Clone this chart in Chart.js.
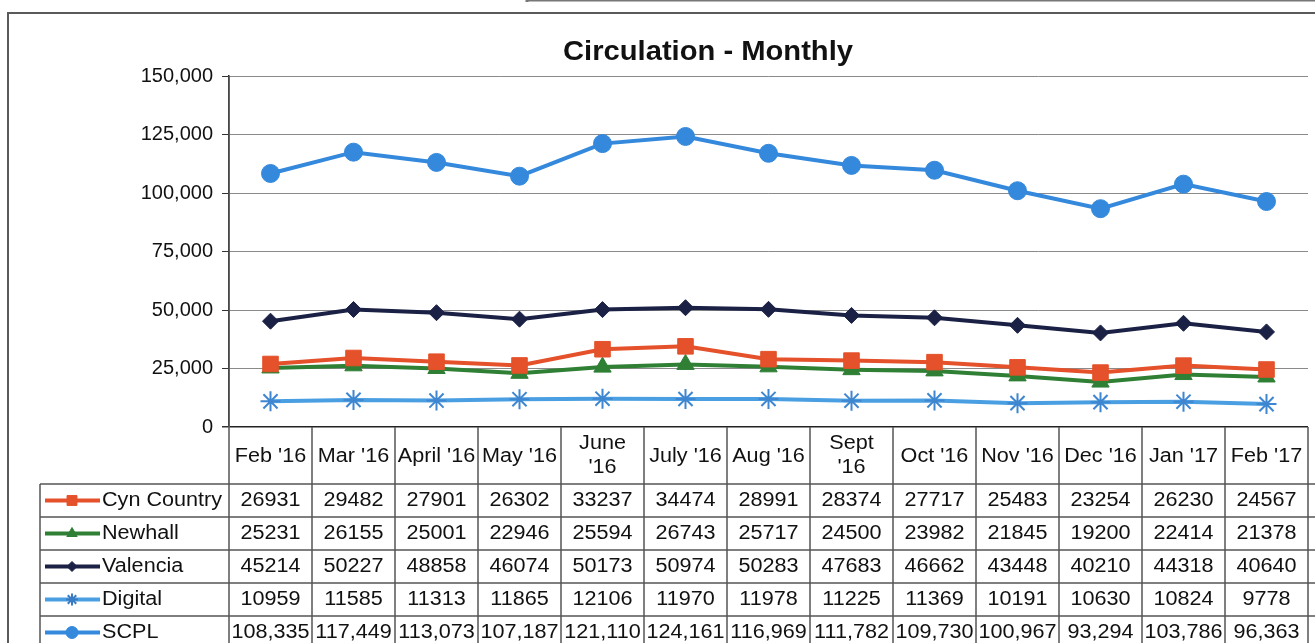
<!DOCTYPE html>
<html>
<head>
<meta charset="utf-8">
<title>Circulation - Monthly</title>
<script src="https://cdn.jsdelivr.net/npm/chart.js@4.4.0/dist/chart.umd.min.js"></script>
<style>
  html, body { margin: 0; padding: 0; background: #fff; overflow: hidden; }
  #wrap { width: 1320px; height: 643px; }
</style>
</head>
<body>
<div id="wrap"><canvas id="chart" width="1320" height="643"></canvas></div>
<script>
// month labels, also used as the header row of the data table
const months = ["Feb '16", "Mar '16", "April '16", "May '16", ["June", "'16"], "July '16",
  "Aug '16", ["Sept", "'16"], "Oct '16", "Nov '16", "Dec '16", "Jan '17", "Feb '17"];

const cynCountry = [26931, 29482, 27901, 26302, 33237, 34474, 28991, 28374, 27717, 25483, 23254, 26230, 24567];
const newhall = [25231, 26155, 25001, 22946, 25594, 26743, 25717, 24500, 23982, 21845, 19200, 22414, 21378];
const valencia = [45214, 50227, 48858, 46074, 50173, 50974, 50283, 47683, 46662, 43448, 40210, 44318, 40640];
const digital = [10959, 11585, 11313, 11865, 12106, 11970, 11978, 11225, 11369, 10191, 10630, 10824, 9778];
const scpl = [108335, 117449, 113073, 107187, 121110, 124161, 116969, 111782, 109730, 100967, 93294, 103786, 96363];

const yTicks = [0, 25000, 50000, 75000, 100000, 125000, 150000];

const FONT = '"Liberation Sans", Arial, sans-serif';

// draws text a little wider than normal, the scan is stretched sideways
function drawText(ctx, text, x, y, font, align, sx) {
  ctx.save();
  ctx.font = font;
  ctx.textAlign = align;
  ctx.textBaseline = 'middle';
  ctx.translate(x, y);
  ctx.scale(sx, 1);
  ctx.fillText(text, 0, 0);
  ctx.restore();
}

const frameAndTable = {
  id: 'frameAndTable',
  beforeDraw(chart) {
    const ctx = chart.ctx;
    ctx.save();
    ctx.fillStyle = '#fff';
    ctx.fillRect(0, 0, chart.width, chart.height);
    // outer chart frame
    ctx.strokeStyle = '#5a5a5a';
    ctx.lineWidth = 2;
    ctx.strokeRect(8, 13, chart.width + 20, chart.height + 20);
    // edge of the box above the chart
    ctx.strokeStyle = '#777';
    ctx.lineWidth = 3;
    ctx.beginPath();
    ctx.moveTo(527, 0);
    ctx.lineTo(chart.width, 0);
    ctx.moveTo(527, 0);
    ctx.lineTo(527, 2);
    ctx.stroke();
    ctx.restore();
  },
  afterDraw(chart) {
    const ctx = chart.ctx;
    const x = chart.scales.x;
    const area = chart.chartArea;
    const colW = (area.right - area.left) / months.length;
    const headTop = area.bottom;
    const headBottom = 484;
    const rowH = 33;
    const sets = chart.data.datasets;
    const tableBottom = headBottom + rowH * sets.length;

    ctx.save();
    // title
    ctx.fillStyle = '#111';
    drawText(ctx, 'Circulation - Monthly', 708, 53, 'bold 27px ' + FONT, 'center', 1.08);

    // grid lines of the table
    ctx.strokeStyle = '#555';
    ctx.lineWidth = 1.5;
    ctx.beginPath();
    ctx.moveTo(area.left, area.top);
    ctx.lineTo(area.left, tableBottom);
    for (let i = 1; i <= months.length; i++) {
      const bx = area.left + colW * i;
      ctx.moveTo(bx, headTop);
      ctx.lineTo(bx, tableBottom);
    }
    ctx.moveTo(40, headBottom);
    ctx.lineTo(40, tableBottom);
    for (let r = 0; r <= sets.length; r++) {
      const ry = headBottom + rowH * r;
      ctx.moveTo(40, ry);
      ctx.lineTo(chart.width, ry);
    }
    ctx.stroke();

    // header row
    ctx.fillStyle = '#111';
    months.forEach((m, i) => {
      const cx = x.getPixelForValue(i);
      if (Array.isArray(m)) {
        drawText(ctx, m[0], cx, 443, '20px ' + FONT, 'center', 1.08);
        drawText(ctx, m[1], cx, 467, '20px ' + FONT, 'center', 1.08);
      } else {
        drawText(ctx, m, cx, 456, '20px ' + FONT, 'center', 1.08);
      }
    });

    // series rows with legend keys
    sets.forEach((ds, r) => {
      const cy = headBottom + rowH * r + rowH / 2;
      ctx.strokeStyle = ds.borderColor;
      ctx.lineWidth = 4;
      ctx.beginPath();
      ctx.moveTo(45, cy);
      ctx.lineTo(100, cy);
      ctx.stroke();
      ctx.fillStyle = ds.pointBackgroundColor;
      ctx.strokeStyle = ds.legendStroke || ds.pointBorderColor;
      ctx.lineWidth = ds.pointBorderWidth;
      Chart.helpers.drawPoint(ctx, {
        pointStyle: ds.pointStyle,
        radius: ds.legendRadius,
        borderWidth: ds.pointBorderWidth,
        rotation: 0
      }, 72, cy);
      ctx.fillStyle = '#111';
      drawText(ctx, ds.label, 102, cy, '20px ' + FONT, 'left', 1.08);
      ds.data.forEach((v, i) => {
        const txt = ds.commas ? v.toLocaleString('en-US') : String(v);
        drawText(ctx, txt, x.getPixelForValue(i), cy, '20px ' + FONT, 'center', 1.08);
      });
    });
    ctx.restore();
  }
};

function series(label, data, color, style, radius, legendRadius, extra) {
  return Object.assign({
    label: label,
    data: data,
    borderColor: color,
    backgroundColor: color,
    pointBackgroundColor: color,
    pointBorderColor: color,
    pointBorderWidth: 1,
    pointStyle: style,
    pointRadius: radius,
    pointHoverRadius: radius,
    legendRadius: legendRadius,
    borderWidth: 4,
    tension: 0,
    fill: false
  }, extra || {});
}

const chart = new Chart(document.getElementById('chart'), {
  type: 'line',
  data: {
    labels: months,
    datasets: [
      series('Cyn Country', cynCountry, '#e4512a', 'rect', 11, 7),
      series('Newhall', newhall, '#2f7f35', 'triangle', 10, 6),
      series('Valencia', valencia, '#1b2145', 'rectRot', 8, 5),
      series('Digital', digital, '#4a9fe2', 'star', 10, 6,
        { pointBorderColor: '#3f86d0', pointBorderWidth: 2, legendStroke: '#3a7cc4' }),
      series('SCPL', scpl, '#3489dc', 'circle', 9, 6, { commas: true })
    ]
  },
  options: {
    responsive: false,
    animation: false,
    devicePixelRatio: 1,
    layout: { padding: { left: 0, right: 0, top: 76, bottom: 216 } },
    plugins: {
      legend: { display: false },
      title: { display: false },
      tooltip: { enabled: false }
    },
    scales: {
      x: {
        type: 'category',
        offset: true,
        display: false
      },
      y: {
        min: 0,
        max: 150000,
        afterFit(scale) { scale.width = 229; },
        afterBuildTicks(scale) { scale.ticks = yTicks.map(v => ({ value: v })); },
        ticks: {
          color: '#111',
          padding: 9,
          font: { family: FONT, size: 20 },
          callback: v => v.toLocaleString('en-US')
        },
        grid: {
          color: c => (c.tick && c.tick.value === 0 ? '#222' : '#8a8a8a'),
          tickColor: '#333',
          tickLength: 7,
          lineWidth: c => (c.tick && c.tick.value === 0 ? 1.5 : 1)
        },
        border: { color: '#222', width: 1.5 }
      }
    }
  },
  plugins: [frameAndTable]
});
</script>
</body>
</html>
